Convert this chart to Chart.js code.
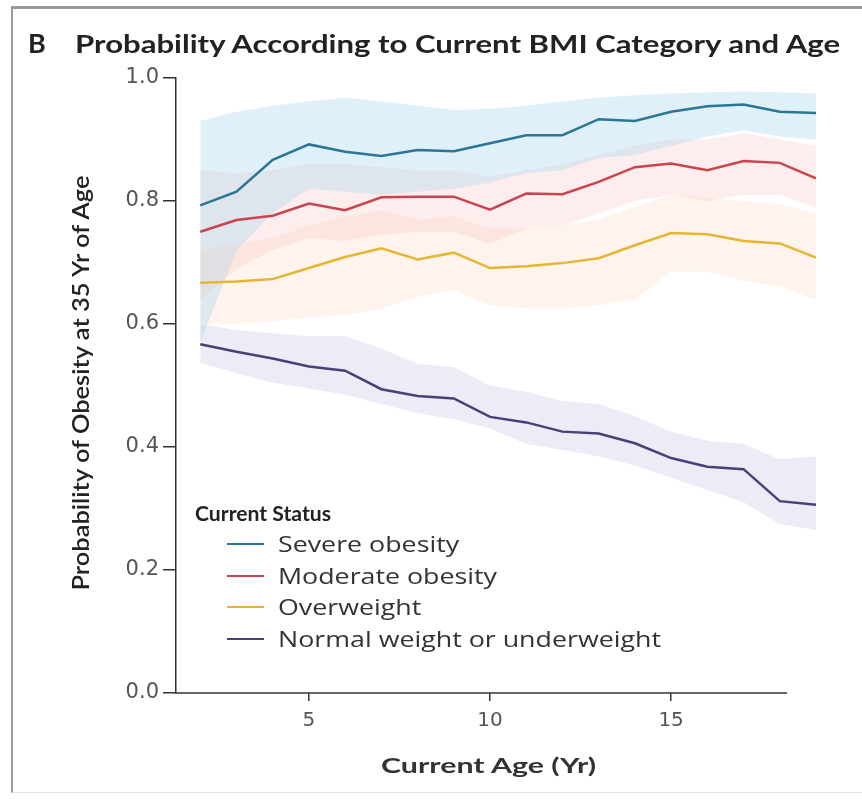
<!DOCTYPE html>
<html>
<head>
<meta charset="utf-8">
<script src="https://cdn.jsdelivr.net/npm/chart.js@4.4.1/dist/chart.umd.min.js"></script>
<style>
  body { margin: 0; background: #fff; }
  #wrap { position: relative; width: 862px; height: 799px; overflow: hidden; }
  #frame { position: absolute; left: 11px; top: 6px; right: -10px; bottom: 6px;
           border-left: 2px solid #9a9a9a; border-top: 3px solid #9a9a9a; border-bottom: 1px solid #e4e4e4; }
  .fit { display: inline-block; white-space: nowrap; transform-origin: 0 50%; }
  #titleB { position: absolute; left: 28px; top: 26px; font-family: "Lato", sans-serif; font-weight: 700;
            font-size: 27px; color: #222; }
  #title { position: absolute; left: 75px; top: 28px; font-family: "Lato", sans-serif; font-weight: 700;
           font-size: 25px; color: #222; }
  #ytitle { position: absolute; left: 80px; top: 383px; font-family: "Lato", sans-serif; font-weight: 600;
            font-size: 23px; color: #222; white-space: nowrap; }
  #xtitle { position: absolute; left: 381px; top: 752px; font-family: "Lato", sans-serif; font-weight: 700;
            font-size: 21px; color: #333; }
  #legend { position: absolute; left: 195px; top: 500px; font-family: "Open Sans", sans-serif; color: #333; }
  #legend .head { font-family: "Lato", sans-serif; font-weight: 700; font-size: 21px; height: 28px; color: #222; }
  #legend .item { height: 31.5px; font-size: 22px; line-height: 31.5px; white-space: nowrap; position: relative; }
  #legend .sw { position: absolute; left: 32px; top: 15px; width: 37px; height: 0; border-top: 2.5px solid; }
  #legend .txt { position: absolute; left: 83px; top: 0; }
</style>
</head>
<body>
<div id="wrap">
  <div id="frame"></div>
  <canvas id="chart" width="862" height="799"></canvas>
  <div id="titleB">B</div>
  <div id="title" class="fit">Probability According to Current BMI Category and Age</div>
  <div id="ytitle">Probability of Obesity at 35 Yr of Age</div>
  <div id="xtitle" class="fit">Current Age (Yr)</div>
  <div id="legend"></div>
</div>
<script>
const ages = [2, 3, 4, 5, 6, 7, 8, 9, 10, 11, 12, 13, 14, 15, 16, 17, 18, 19];
const seriesNames = ["Severe obesity", "Moderate obesity", "Overweight", "Normal weight or underweight"];

const severe      = [0.793, 0.815, 0.867, 0.892, 0.880, 0.873, 0.883, 0.881, 0.894, 0.907, 0.907, 0.933, 0.930, 0.945, 0.954, 0.957, 0.945, 0.943];
const severeHi    = [0.930, 0.945, 0.955, 0.962, 0.968, 0.962, 0.955, 0.948, 0.950, 0.955, 0.962, 0.968, 0.972, 0.975, 0.977, 0.978, 0.977, 0.975];
const severeLo    = [0.570, 0.720, 0.780, 0.820, 0.815, 0.810, 0.815, 0.820, 0.830, 0.845, 0.850, 0.870, 0.875, 0.890, 0.905, 0.915, 0.905, 0.900];

const moderate    = [0.750, 0.769, 0.776, 0.796, 0.785, 0.806, 0.807, 0.807, 0.786, 0.812, 0.811, 0.831, 0.855, 0.861, 0.850, 0.865, 0.862, 0.837];
const moderateHi  = [0.850, 0.845, 0.850, 0.860, 0.860, 0.855, 0.850, 0.850, 0.840, 0.850, 0.860, 0.875, 0.890, 0.900, 0.900, 0.910, 0.900, 0.890];
const moderateLo  = [0.640, 0.690, 0.720, 0.740, 0.735, 0.745, 0.750, 0.750, 0.730, 0.755, 0.760, 0.780, 0.800, 0.810, 0.800, 0.810, 0.810, 0.790];

const overweight   = [0.667, 0.669, 0.673, 0.691, 0.709, 0.723, 0.705, 0.716, 0.691, 0.694, 0.699, 0.707, 0.728, 0.748, 0.746, 0.735, 0.731, 0.708];
const overweightHi = [0.720, 0.730, 0.740, 0.760, 0.775, 0.785, 0.770, 0.775, 0.755, 0.755, 0.760, 0.770, 0.790, 0.810, 0.805, 0.800, 0.795, 0.780];
const overweightLo = [0.600, 0.600, 0.605, 0.610, 0.615, 0.625, 0.645, 0.655, 0.630, 0.625, 0.625, 0.630, 0.640, 0.685, 0.685, 0.670, 0.660, 0.640];

const normal      = [0.567, 0.555, 0.544, 0.531, 0.524, 0.494, 0.483, 0.479, 0.449, 0.440, 0.425, 0.422, 0.406, 0.382, 0.368, 0.364, 0.312, 0.306];
const normalHi    = [0.600, 0.590, 0.585, 0.580, 0.580, 0.560, 0.535, 0.530, 0.500, 0.490, 0.475, 0.470, 0.450, 0.425, 0.410, 0.405, 0.380, 0.385];
const normalLo    = [0.537, 0.520, 0.505, 0.495, 0.485, 0.470, 0.455, 0.445, 0.430, 0.405, 0.395, 0.385, 0.370, 0.350, 0.330, 0.310, 0.275, 0.265];

const yTicks = [0, 0.2, 0.4, 0.6, 0.8, 1.0];
const xTicks = [5, 10, 15];

const lineColors = ["#2a7696", "#c9444c", "#e6b632", "#4b3f7a"];
const bandColors = ["rgba(165, 212, 236, 0.34)", "rgba(245, 175, 170, 0.22)",
                    "rgba(252, 210, 180, 0.24)", "rgba(200, 196, 228, 0.34)"];

const mids = [severe, moderate, overweight, normal];
const his = [severeHi, moderateHi, overweightHi, normalHi];
const los = [severeLo, moderateLo, overweightLo, normalLo];

function pts(arr) {
  return ages.map((a, i) => ({ x: a, y: arr[i] }));
}

const datasets = [];
mids.forEach((m, k) => {
  datasets.push({ label: seriesNames[k] + " upper", data: pts(his[k]), fill: "+1",
    backgroundColor: bandColors[k], borderWidth: 0, pointRadius: 0, order: 2 });
  datasets.push({ label: seriesNames[k] + " lower", data: pts(los[k]), fill: false,
    borderWidth: 0, pointRadius: 0, order: 2 });
});
mids.forEach((m, k) => {
  datasets.push({ label: seriesNames[k], data: pts(m), fill: false,
    borderColor: lineColors[k], borderWidth: 2.5, pointRadius: 0, tension: 0, order: 1 });
});

// x axis line stops short of the last data point, as in the print version
const xAxisLine = {
  id: "xAxisLine",
  afterDraw(chart) {
    const { ctx, chartArea, scales } = chart;
    ctx.save();
    ctx.strokeStyle = "#333";
    ctx.lineWidth = 1.5;
    ctx.beginPath();
    ctx.moveTo(chartArea.left - 1, chartArea.bottom);
    ctx.lineTo(scales.x.getPixelForValue(18.2), chartArea.bottom);
    ctx.stroke();
    ctx.restore();
  }
};

new Chart(document.getElementById("chart").getContext("2d"), {
  type: "line",
  data: { datasets: datasets },
  options: {
    responsive: false,
    animation: false,
    layout: { padding: { top: 78, right: 46, left: 0, bottom: 0 } },
    plugins: { legend: { display: false }, tooltip: { enabled: false } },
    scales: {
      x: {
        type: "linear",
        min: 1.33,
        max: 19,
        afterBuildTicks: (s) => { s.ticks = xTicks.map(v => ({ value: v })); },
        afterFit: (s) => { s.height = 106; },
        grid: { drawOnChartArea: false, drawTicks: true, tickLength: 8, color: "#333", lineWidth: 1.5 },
        border: { display: false },
        ticks: { font: { family: "DejaVu Sans", size: 20 }, color: "#555", padding: 8 }
      },
      y: {
        min: 0,
        max: 1,
        afterBuildTicks: (s) => { s.ticks = yTicks.map(v => ({ value: v })); },
        afterFit: (s) => { s.width = 176; },
        grid: { drawOnChartArea: false, drawTicks: true, tickLength: 13, color: "#333", lineWidth: 1.5 },
        border: { display: true, color: "#333", width: 1.5 },
        ticks: { font: { family: "DejaVu Sans", size: 21 }, color: "#555", padding: 4,
                 callback: (v) => Number(v).toFixed(1) }
      }
    }
  },
  plugins: [xAxisLine]
});

const legend = document.getElementById("legend");
legend.innerHTML = '<div class="head"><span class="fit" id="lhead">Current Status</span></div>' +
  seriesNames.map((n, k) => '<div class="item"><span class="sw" style="border-color:' +
    lineColors[k] + '"></span><span class="txt fit">' + n + '</span></div>').join("");

// stretch text horizontally to the widths seen in the reference
function fitWidth(el, target) {
  const w = el.getBoundingClientRect().width;
  el.style.transform = "scaleX(" + (target / w) + ")";
  return target / w;
}
fitWidth(document.getElementById("title"), 765);
fitWidth(document.getElementById("xtitle"), 215);
fitWidth(document.getElementById("lhead"), 136);
const items = document.querySelectorAll("#legend .txt");
const f = 383 / items[items.length - 1].getBoundingClientRect().width;
items.forEach(el => { el.style.transform = "scaleX(" + f + ")"; });

const yt = document.getElementById("ytitle");
const yw = yt.getBoundingClientRect().width;
yt.style.transform = "translate(-50%, -50%) rotate(-90deg) scaleX(" + (415 / yw) + ")";
</script>
</body>
</html>
